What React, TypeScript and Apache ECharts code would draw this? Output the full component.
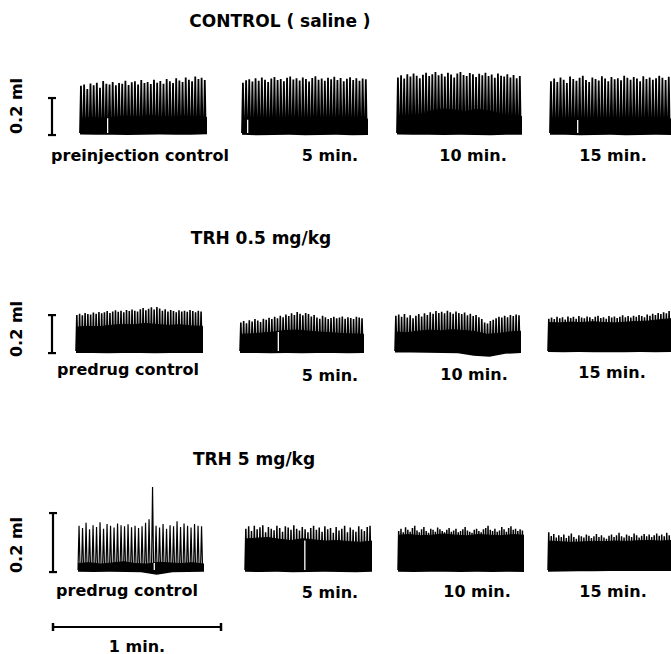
import React, { useEffect, useRef } from "react";
import * as echarts from "echarts";

// ---------- texts ----------
const rowTitles = ["CONTROL ( saline )", "TRH 0.5 mg/kg", "TRH 5 mg/kg"];
const panelLabels = [
  ["preinjection control", "5 min.", "10 min.", "15 min."],
  ["predrug control", "5 min.", "10 min.", "15 min."],
  ["predrug control", "5 min.", "10 min.", "15 min."],
];
const volumeScaleLabel = "0.2 ml";
const timeScaleLabel = "1 min.";
const volumeScaleUl = 200; // 0.2 ml calibration bar, in µl
const timeScaleSec = 60; // 1 min time bar

// ---------- data: peak tidal volume per breath (µl above trace baseline) ----------
// body = top of dense (solid black) part of trace, sampled evenly across the panel
// base = lower edge of trace, sampled evenly across the panel
// notches = [breath position, height] of breaks in the dense part
const ctrlPrePeaks = [255, 262, 238, 268, 258, 272, 245, 281, 266, 262, 275, 258, 270, 266, 283, 260, 274, 279, 262, 286, 270, 276, 265, 288, 272, 281, 266, 292, 279, 270, 296, 284, 276, 300, 288, 280, 305, 292, 298, 286];
const ctrlPreBody = [80, 84, 78, 86, 92, 88, 95, 90, 86, 92, 88, 84];
const ctrlPreBase = [-8, -10, -9, -11, -10, -8, -10, -9, -7];
const ctrlPreNotches = [[8.7, 80]];

const ctrl5Peaks = [272, 285, 290, 278, 296, 283, 300, 288, 275, 295, 302, 286, 292, 280, 298, 305, 289, 296, 284, 300, 292, 278, 297, 306, 288, 295, 282, 299, 291, 304, 286, 297, 280, 293, 301, 287, 296, 283, 294, 290];
const ctrl5Body = [75, 70, 78, 72, 80, 76, 70, 74, 80, 72, 78, 75];
const ctrl5Base = [-10, -12, -11, -10, -12, -11, -10, -12, -11];
const ctrl5Notches = [[1.8, 72]];

const ctrl10Peaks = [300, 312, 295, 318, 306, 322, 310, 296, 315, 325, 308, 318, 330, 312, 320, 305, 326, 316, 300, 322, 330, 314, 308, 324, 318, 302, 320, 312, 326, 308, 316, 298, 322, 310, 306, 318, 300, 314, 296, 308];
const ctrl10Body = [90, 95, 100, 118, 130, 125, 115, 128, 120, 105, 95, 88];
const ctrl10Base = [-8, -9, -10, -11, -10, -11, -12, -10, -9];
const ctrl10Notches: number[][] = [];

const ctrl15Peaks = [280, 295, 275, 300, 288, 270, 305, 292, 282, 298, 310, 286, 276, 300, 292, 284, 306, 295, 280, 302, 290, 296, 285, 310, 298, 288, 302, 294, 280, 306, 292, 300, 288, 296, 310, 298, 286, 304];
const ctrl15Body = [72, 68, 75, 80, 70, 76, 82, 74, 70, 78, 72, 76];
const ctrl15Base = [-9, -10, -12, -11, -10, -12, -11, -10, -11];
const ctrl15Notches = [[8.7, 70]];

const low0Peaks = [190, 196, 188, 200, 194, 192, 202, 196, 205, 198, 204, 210, 200, 208, 214, 206, 212, 204, 216, 210, 218, 212, 208, 220, 226, 214, 222, 230, 218, 232, 224, 212, 220, 208, 216, 210, 204, 214, 208, 212, 206, 216, 210, 204, 212, 208];
const low0Body = [125, 130, 128, 135, 140, 138, 145, 140, 135, 138, 132, 130];
const low0Base = [-10, -11, -12, -11, -10, -12, -11, -10, -11];
const low0Notches: number[][] = [];

const low5Peaks = [150, 158, 146, 162, 155, 168, 160, 152, 170, 164, 175, 168, 180, 172, 186, 178, 192, 184, 198, 190, 205, 196, 188, 200, 194, 182, 190, 176, 170, 185, 178, 168, 174, 180, 172, 176, 182, 170, 178, 174, 168, 180, 176, 172];
const low5Body = [88, 90, 95, 100, 108, 110, 105, 100, 96, 92, 90, 88];
const low5Base = [-10, -11, -12, -11, -12, -11, -10, -12, -11];
const low5Notches = [[13.6, 100]];

const low10Peaks = [185, 192, 180, 195, 176, 188, 172, 186, 194, 182, 198, 190, 204, 196, 210, 200, 206, 198, 212, 204, 196, 208, 200, 194, 202, 188, 196, 184, 190, 178, 168, 150, 145, 158, 165, 172, 180, 176, 186, 178, 190, 184, 192, 188];
const low10Body = [100, 96, 104, 110, 106, 112, 108, 102, 88, 92, 100, 104];
const low10Base = [-8, -8, -9, -10, -12, -25, -30, -15, -10];
const low10Notches: number[][] = [];

const low15Peaks = [170, 176, 168, 180, 172, 178, 166, 182, 174, 180, 170, 184, 176, 172, 182, 178, 168, 180, 186, 174, 178, 170, 184, 176, 182, 174, 180, 188, 178, 184, 176, 186, 180, 190, 184, 178, 192, 186, 196, 190, 200, 194, 204, 198, 210];
const low15Body = [150, 148, 152, 150, 154, 150, 148, 152, 155, 158, 165, 170];
const low15Base = [-5, -6, -5, -6, -7, -6, -5, -6, -5];
const low15Notches: number[][] = [];

const high0Peaks = [150, 142, 160, 138, 152, 146, 162, 140, 156, 150, 144, 158, 152, 148, 155, 145, 150, 142, 148, 160, 172, 281, 150, 144, 156, 140, 152, 148, 165, 146, 158, 150, 144, 156, 150, 148];
const high0Body = [22, 25, 20, 24, 28, 22, 20, 26, 24, 22, 25, 20];
const high0Base = [-6, -7, -6, -7, -8, -16, -8, -7, -6];
const high0Notches = [[21.8, 24]];

const high5Peaks = [140, 148, 132, 150, 138, 145, 152, 128, 146, 140, 135, 150, 142, 130, 148, 144, 136, 152, 140, 134, 146, 138, 128, 142, 150, 136, 144, 130, 148, 138, 142, 126, 146, 134, 140, 150, 128, 144, 136, 130, 148, 138, 132, 146, 150];
const high5Body = [105, 108, 110, 104, 100, 106, 102, 98, 100, 96, 94, 98];
const high5Base = [-6, -7, -6, -8, -7, -6, -7, -8, -6];
const high5Notches = [[21.2, 100]];

const high10Peaks = [132, 140, 128, 145, 136, 130, 142, 150, 134, 128, 138, 146, 132, 126, 140, 136, 130, 144, 138, 132, 128, 136, 142, 130, 134, 140, 128, 132, 138, 146, 134, 130, 126, 136, 140, 132, 128, 138, 142, 150, 136, 132, 140, 130, 134, 146, 138, 130, 142, 148, 136, 140, 132, 138, 134];
const high10Body = [118, 120, 116, 118, 122, 118, 116, 120, 118, 116, 120, 118];
const high10Base = [-6, -7, -6, -6, -7, -6, -7, -6, -7];
const high10Notches: number[][] = [];

const high15Peaks = [128, 115, 122, 110, 118, 112, 120, 108, 116, 124, 112, 106, 118, 114, 110, 120, 116, 108, 114, 122, 112, 118, 110, 106, 116, 120, 112, 118, 126, 114, 110, 120, 116, 112, 124, 118, 110, 116, 122, 114, 120, 112, 118, 124, 116, 120, 114, 126, 118];
const high15Body = [98, 96, 94, 95, 97, 96, 98, 97, 99, 100, 98, 100];
const high15Base = [-6, -5, -4, -4, -3, -3, -3, -3, -3];
const high15Notches: number[][] = [];

const BASELINE = 0;

const panelData = [
  [
    { peaks: ctrlPrePeaks, body: ctrlPreBody, base: ctrlPreBase, notches: ctrlPreNotches },
    { peaks: ctrl5Peaks, body: ctrl5Body, base: ctrl5Base, notches: ctrl5Notches },
    { peaks: ctrl10Peaks, body: ctrl10Body, base: ctrl10Base, notches: ctrl10Notches },
    { peaks: ctrl15Peaks, body: ctrl15Body, base: ctrl15Base, notches: ctrl15Notches },
  ],
  [
    { peaks: low0Peaks, body: low0Body, base: low0Base, notches: low0Notches },
    { peaks: low5Peaks, body: low5Body, base: low5Base, notches: low5Notches },
    { peaks: low10Peaks, body: low10Body, base: low10Base, notches: low10Notches },
    { peaks: low15Peaks, body: low15Body, base: low15Base, notches: low15Notches },
  ],
  [
    { peaks: high0Peaks, body: high0Body, base: high0Base, notches: high0Notches },
    { peaks: high5Peaks, body: high5Body, base: high5Base, notches: high5Notches },
    { peaks: high10Peaks, body: high10Body, base: high10Base, notches: high10Notches },
    { peaks: high15Peaks, body: high15Body, base: high15Base, notches: high15Notches },
  ],
];
const calibrationBottomUl = [-11, -11, -7];

// ---------- layout (pixels) ----------
const W = 671;
const H = 654;
const FONT = '"DejaVu Sans", "Liberation Sans", Arial, sans-serif';
const rowLayout = [
  { y0: 133, ppu: 0.185, yMin: -40, yMax: 360, barX: 52 },
  { y0: 351, ppu: 0.19, yMin: -50, yMax: 260, barX: 52 },
  { y0: 570, ppu: 0.295, yMin: -30, yMax: 300, barX: 53 },
];
const panelX = [
  [[80, 207], [242, 368], [397, 522], [550, 671]],
  [[76, 203], [240, 364], [395, 521], [548, 671]],
  [[78, 204], [245, 372], [398, 524], [548, 671]],
];
const lineWidths = [
  [1.8, 1.8, 1.8, 1.8],
  [1.6, 1.6, 1.6, 1.6],
  [1.2, 1.5, 1.5, 1.5],
];
const titlePos = [[280, 21], [261, 238], [254, 459]];
const labelPos = [
  [[140, 155], [330, 155], [473, 155], [613, 155]],
  [[128, 369], [330, 375], [474, 374], [612, 372]],
  [[127, 590], [330, 592], [477, 591], [613, 591]],
];
const volLabelPos = [[16, 106], [16, 329], [16, 545]];
const timeBar = { left: 53, right: 221, y: 627 };
const timeLabelPos = [137, 646];
const SPIKE = 0.3;

function buildOption() {
  const grid: any[] = [];
  const xAxis: any[] = [];
  const yAxis: any[] = [];
  const series: any[] = [];
  const graphic: any[] = [];
  let gi = 0;

  rowLayout.forEach((row, r) => {
    const top = row.y0 - row.yMax * row.ppu;
    const height = (row.yMax - row.yMin) * row.ppu;
    panelData[r].forEach((p, c) => {
      const [x0, x1] = panelX[r][c];
      grid.push({ left: x0, top, width: x1 - x0, height, outerBoundsMode: "none", containLabel: false });
      const n = p.peaks.length;
      xAxis.push({ type: "value", gridIndex: gi, min: 0, max: n, show: false });
      yAxis.push({ type: "value", gridIndex: gi, min: row.yMin, max: row.yMax, show: false });
      const zig: number[][] = [];
      p.peaks.forEach((v, i) => {
        zig.push([i, BASELINE], [i + SPIKE, v], [i + 2 * SPIKE, BASELINE]);
      });
      zig.push([n, BASELINE]);
      series.push({
        type: "line", xAxisIndex: gi, yAxisIndex: gi, data: zig, symbol: "none", silent: true,
        lineStyle: { color: "#000", width: lineWidths[r][c], join: "miter" }, z: 2,
      });
      const m = p.body.length;
      const lowest = Math.min(...p.base) - 6;
      series.push({
        type: "line", xAxisIndex: gi, yAxisIndex: gi, silent: true, symbol: "none",
        data: p.body.map((v, j) => [(j * n) / (m - 1), v]),
        lineStyle: { color: "#000", width: 1 },
        areaStyle: { color: "#000", opacity: 1, origin: lowest }, z: 3,
      });
      const k = p.base.length;
      series.push({
        type: "line", xAxisIndex: gi, yAxisIndex: gi, silent: true, symbol: "none",
        data: p.base.map((v, j) => [(j * n) / (k - 1), v]),
        lineStyle: { color: "#fff", width: 0 },
        areaStyle: { color: "#fff", opacity: 1, origin: "start" }, z: 4,
      });
      if (p.notches.length) {
        series.push({
          type: "bar", xAxisIndex: gi, yAxisIndex: gi, silent: true, data: p.notches,
          barWidth: 1.3, itemStyle: { color: "#fff" }, z: 5,
        });
      }
      gi++;
    });

    // calibration bar 0.2 ml
    grid.push({ left: row.barX - 5, top, width: 10, height, outerBoundsMode: "none" });
    xAxis.push({ type: "value", gridIndex: gi, min: -1, max: 1, show: false });
    yAxis.push({ type: "value", gridIndex: gi, min: row.yMin, max: row.yMax, show: false });
    series.push({
      type: "line", xAxisIndex: gi, yAxisIndex: gi, silent: true, clip: false,
      data: [[0, calibrationBottomUl[r]], [0, calibrationBottomUl[r] + volumeScaleUl]],
      symbol: "rect", symbolSize: [8, 2.2], showSymbol: true, showAllSymbol: true,
      lineStyle: { color: "#000", width: 2.2 }, itemStyle: { color: "#000" },
    });
    gi++;

    graphic.push({
      type: "text", x: titlePos[r][0], y: titlePos[r][1], silent: true,
      style: { text: rowTitles[r], fontFamily: FONT, fontWeight: "bold", fontSize: 17, fill: "#000", align: "center", verticalAlign: "middle" },
    });
    panelLabels[r].forEach((t, c) => {
      graphic.push({
        type: "text", x: labelPos[r][c][0], y: labelPos[r][c][1], silent: true,
        style: { text: t, fontFamily: FONT, fontWeight: "bold", fontSize: 16, fill: "#000", align: "center", verticalAlign: "middle" },
      });
    });
    graphic.push({
      type: "text", x: volLabelPos[r][0], y: volLabelPos[r][1], rotation: Math.PI / 2, silent: true,
      style: { text: volumeScaleLabel, fontFamily: FONT, fontWeight: "bold", fontSize: 16, fill: "#000", align: "center", verticalAlign: "middle" },
    });
  });

  // time bar 1 min
  grid.push({ left: timeBar.left, top: timeBar.y - 5, width: timeBar.right - timeBar.left, height: 10, outerBoundsMode: "none" });
  xAxis.push({ type: "value", gridIndex: gi, min: 0, max: timeScaleSec, show: false });
  yAxis.push({ type: "value", gridIndex: gi, min: -1, max: 1, show: false });
  series.push({
    type: "line", xAxisIndex: gi, yAxisIndex: gi, silent: true, clip: false,
    data: [[0, 0], [timeScaleSec, 0]],
    symbol: "rect", symbolSize: [2.5, 8], showSymbol: true, showAllSymbol: true,
    lineStyle: { color: "#000", width: 2 }, itemStyle: { color: "#000" },
  });
  graphic.push({
    type: "text", x: timeLabelPos[0], y: timeLabelPos[1], silent: true,
    style: { text: timeScaleLabel, fontFamily: FONT, fontWeight: "bold", fontSize: 16, fill: "#000", align: "center", verticalAlign: "middle" },
  });

  return { animation: false, backgroundColor: "#fff", grid, xAxis, yAxis, series, graphic };
}

export default function App() {
  const ref = useRef<HTMLDivElement>(null);
  useEffect(() => {
    if (!ref.current) return;
    const chart = echarts.init(ref.current, null, { renderer: "svg" });
    chart.setOption(buildOption() as any);
    return () => chart.dispose();
  }, []);
  return (
    <div
      ref={ref}
      style={{ position: "fixed", left: 0, top: 0, width: W, height: H, background: "#fff" }}
    />
  );
}
